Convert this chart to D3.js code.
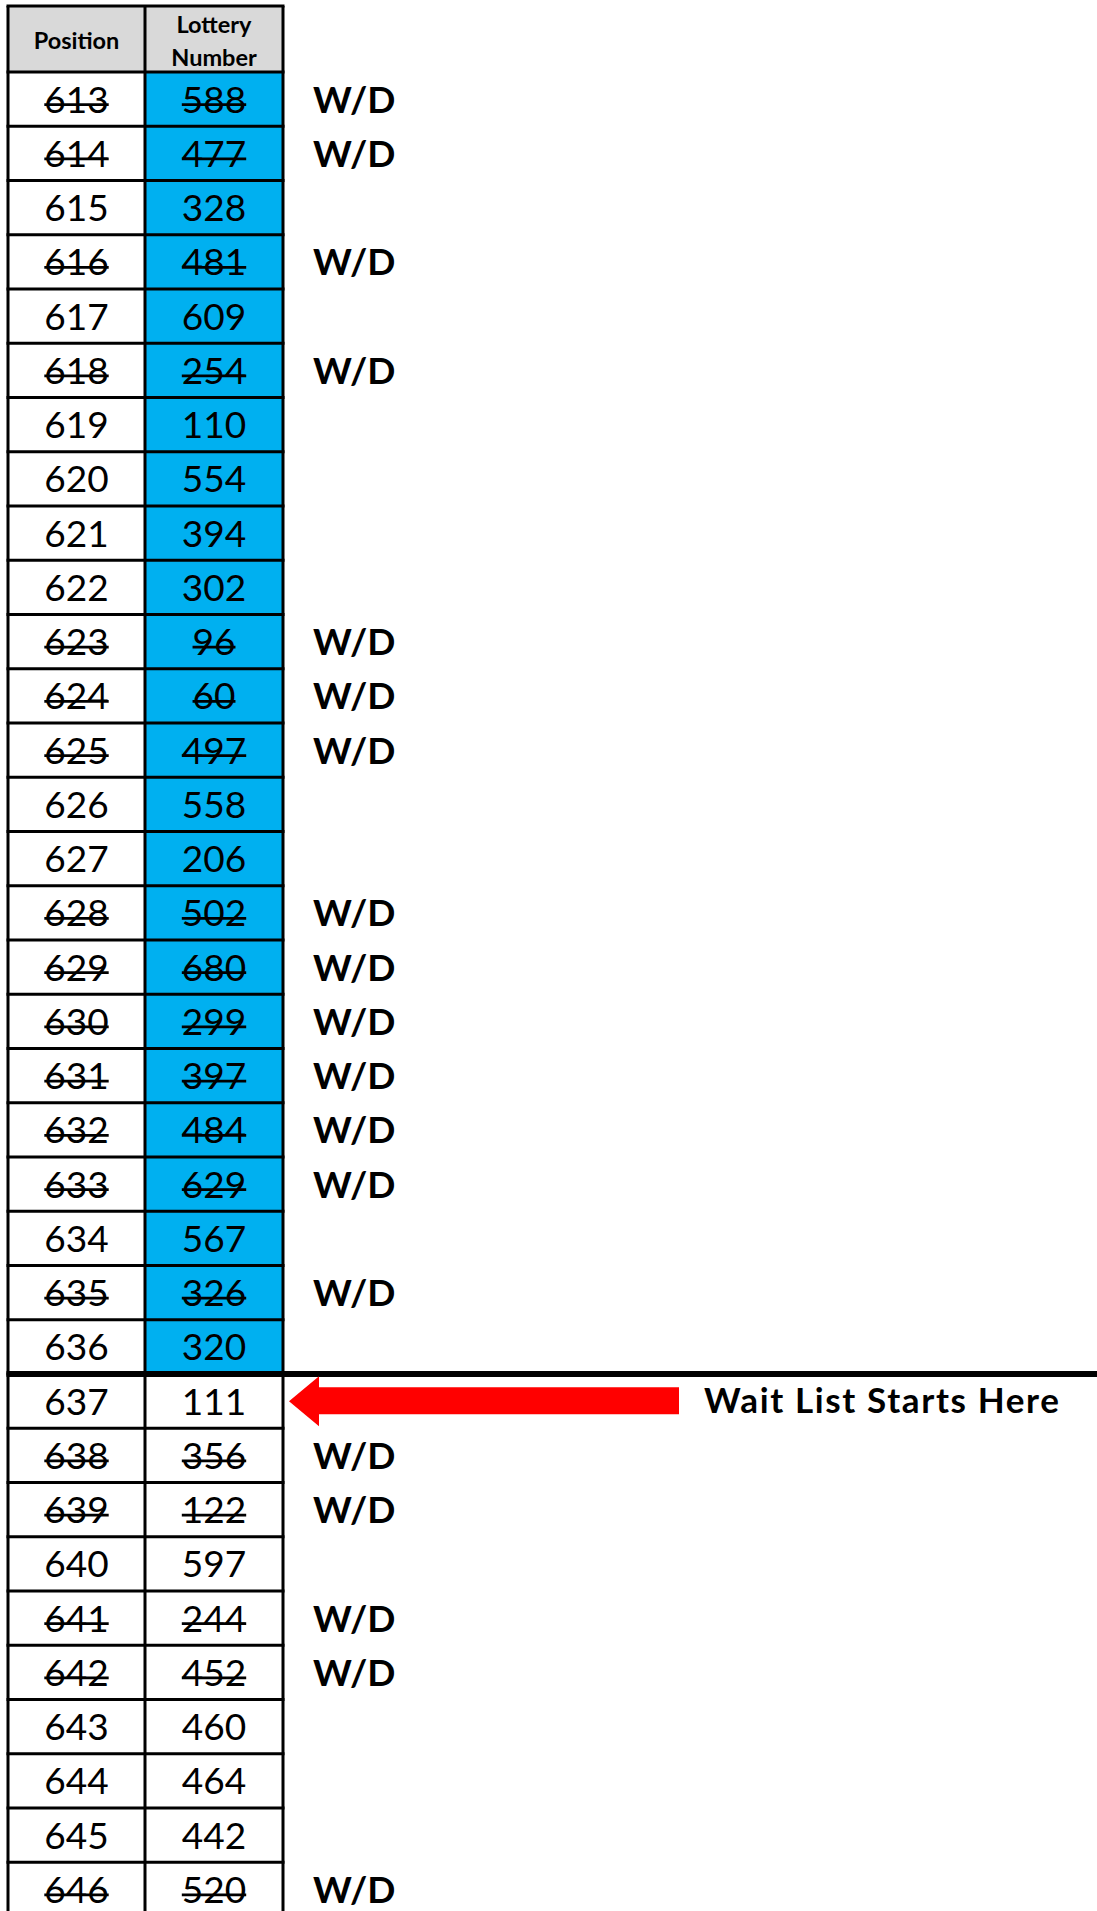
<!DOCTYPE html>
<html><head><meta charset="utf-8">
<script src="https://cdn.jsdelivr.net/npm/d3@7"></script>
<style>html,body{margin:0;padding:0;background:#fff;}svg{display:block;}</style>
</head><body>
<script>
const positions = [613,614,615,616,617,618,619,620,621,622,623,624,625,626,627,628,629,630,631,632,633,634,635,636,637,638,639,640,641,642,643,644,645,646];
const lotteryNumbers = [588,477,328,481,609,254,110,554,394,302,96,60,497,558,206,502,680,299,397,484,629,567,326,320,111,356,122,597,244,452,460,464,442,520];
const withdrawn = [613,614,616,618,623,624,625,628,629,630,631,632,633,635,638,639,641,642,646];
const waitListStart = 637;
const headers = ["Position", ["Lottery","Number"]];
const wdLabel = "W/D";
const waitLabel = "Wait List Starts Here";

const W = 1097, H = 1911;
const FONT = "Lato, 'Open Sans', sans-serif";
const svg = d3.select("body").append("svg").attr("width", W).attr("height", H);

const rows = positions.map((p,i)=>({pos:p, num:lotteryNumbers[i], wd: withdrawn.includes(p), wait: p >= waitListStart}));
const rowH = 54.25, top0 = 72;
const y = d3.scaleBand().domain(positions).range([top0, top0 + rowH*positions.length]).padding(0);
const x = d3.scaleOrdinal().domain(["pos","num"]).range([8,145]);
const colW = {pos:137, num:138};
const tableL = 8, tableR = 283, headTop = 6;

// header
svg.append("rect").attr("x", tableL).attr("y", headTop).attr("width", tableR-tableL).attr("height", top0-headTop).attr("fill","#d9d9d9");
svg.append("text").attr("x", x("pos")+colW.pos/2).attr("y", 49).attr("text-anchor","middle")
  .attr("font-family",FONT).attr("font-weight","bold").attr("font-size",23.5).text(headers[0]);
svg.append("text").attr("x", x("num")+colW.num/2).attr("y", 33).attr("text-anchor","middle")
  .attr("font-family",FONT).attr("font-weight","bold").attr("font-size",23.5).text(headers[1][0]);
svg.append("text").attr("x", x("num")+colW.num/2).attr("y", 66).attr("text-anchor","middle")
  .attr("font-family",FONT).attr("font-weight","bold").attr("font-size",23.5).text(headers[1][1]);

// cell fills
const g = svg.append("g");
g.selectAll("rect.num").data(rows).join("rect")
  .attr("x", x("num")).attr("y", d=>y(d.pos)).attr("width", colW.num).attr("height", y.bandwidth())
  .attr("fill", d=>d.wait ? "#ffffff" : "#00b0f0");

// text
["pos","num"].forEach(k=>{
  const t = g.selectAll("text."+k).data(rows).join("text").attr("class",k)
    .attr("x", x(k)+colW[k]/2).attr("y", d=>y(d.pos)+y.bandwidth()/2+13.5)
    .attr("text-anchor","middle").attr("font-family",FONT).attr("font-size",37).attr("fill","#000")
    .text(d=>d[k]);
  t.each(function(d){
    if(!d.wd) return;
    const len = this.getComputedTextLength();
    const cx = x(k)+colW[k]/2;
    g.append("line").attr("x1", cx-len/2).attr("x2", cx+len/2)
      .attr("y1", y(d.pos)+y.bandwidth()/2+5.5).attr("y2", y(d.pos)+y.bandwidth()/2+5.5)
      .attr("stroke","#000").attr("stroke-width",2.6);
  });
});

g.selectAll("text.wd").data(rows.filter(d=>d.wd)).join("text").attr("class","wd")
  .attr("x", 313).attr("y", d=>y(d.pos)+y.bandwidth()/2+13.5)
  .attr("font-family",FONT).attr("font-weight","bold").attr("font-size",37).text(wdLabel);

// grid lines
const lines = svg.append("g").attr("stroke","#000");
const bottom = y.range()[1];
[headTop, top0, ...positions.slice(1).map(p=>y(p)), bottom].forEach(v=>{
  lines.append("line").attr("x1", tableL-1.5).attr("x2", tableR+1.5).attr("y1", v).attr("y2", v).attr("stroke-width",3);
});
[tableL, x("num"), tableR].forEach(v=>{
  lines.append("line").attr("x1", v).attr("x2", v).attr("y1", headTop).attr("y2", bottom).attr("stroke-width",3);
});

// wait list separator
const sepY = y(waitListStart);
svg.append("line").attr("x1", tableL-1.5).attr("x2", W).attr("y1", sepY).attr("y2", sepY).attr("stroke","#000").attr("stroke-width",6);

// arrow
const cy = y(waitListStart)+y.bandwidth()/2;
const tipX = tableR + 6, headX = tipX + 30, endX = 679;
const arrow = d3.path();
arrow.moveTo(tipX, cy);
arrow.lineTo(headX, cy-25);
arrow.lineTo(headX, cy-14);
arrow.lineTo(endX, cy-14);
arrow.lineTo(endX, cy+13);
arrow.lineTo(headX, cy+13);
arrow.lineTo(headX, cy+25);
arrow.closePath();
svg.append("path").attr("d", arrow.toString()).attr("fill","#ff0000");

svg.append("text").attr("x", 704).attr("y", cy+12).attr("font-family",FONT).attr("font-weight","bold")
  .attr("font-size",35).attr("textLength",355).attr("lengthAdjust","spacing").text(waitLabel);
</script>
</body></html>
